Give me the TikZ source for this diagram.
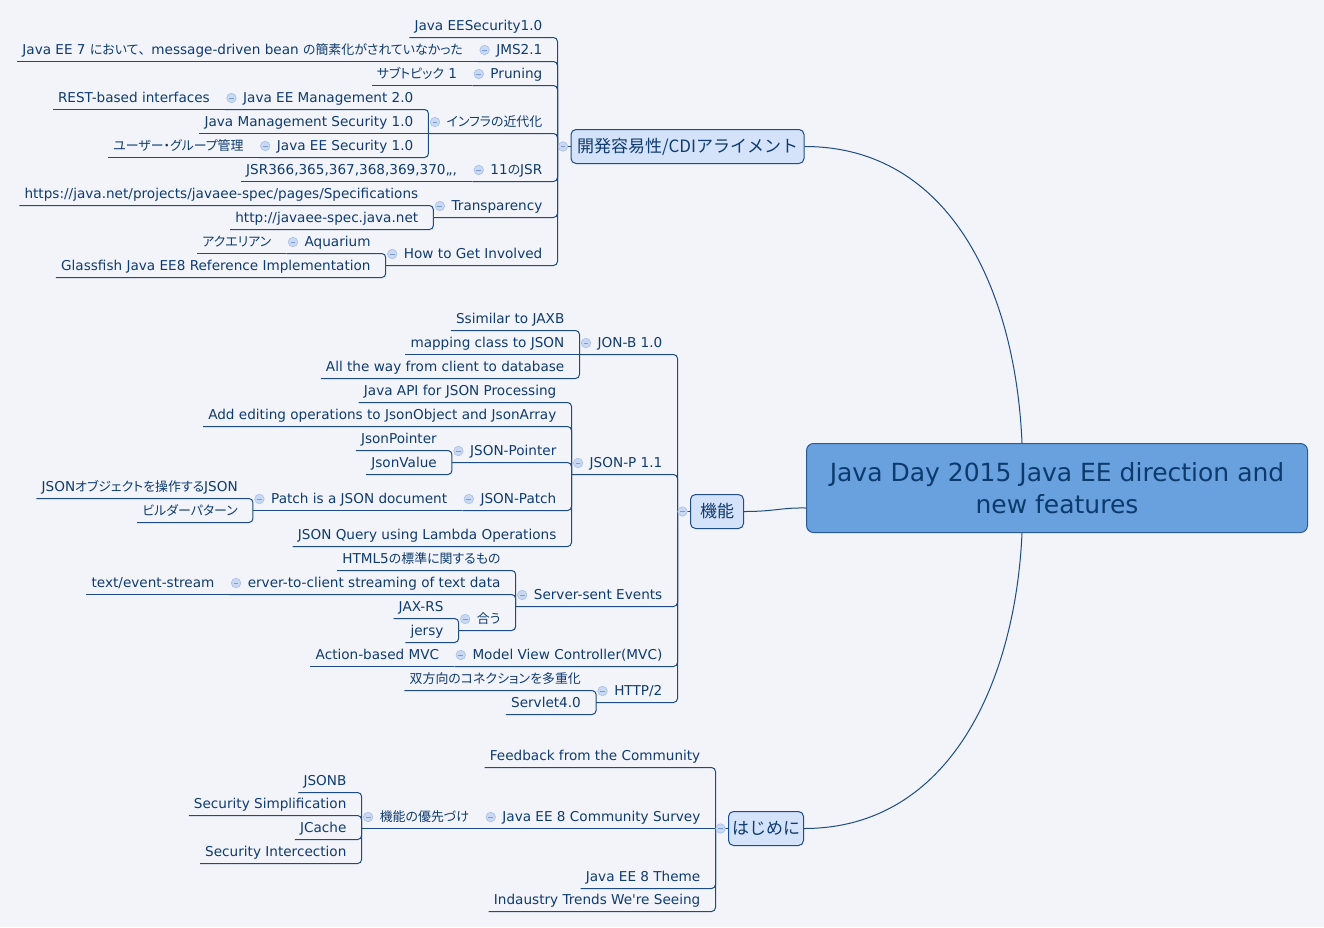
\documentclass[tikz,border=0pt]{standalone}
\usepackage{fontspec}
\setmainfont{DejaVu Sans}
\newfontfamily\jp[RawFeature=+palt,Scale=0.95]{Noto Sans CJK JP}
\newfontfamily\jpf[Scale=0.95]{Noto Sans CJK JP}
\newfontfamily\jpb{Noto Sans CJK JP}
\newcommand\apos{\XeTeXglyph\XeTeXcharglyph"0027\relax}
\usetikzlibrary{calc}
\definecolor{bg}{HTML}{F2F4F9}
\definecolor{ln}{HTML}{1D4B85}
\definecolor{txt}{HTML}{0F3B70}
\definecolor{ccfill}{HTML}{C9D9F3}
\definecolor{ccdraw}{HTML}{A7BFE6}
\definecolor{ccminus}{HTML}{7D9BD1}
\definecolor{boxfill}{HTML}{D4E2FA}
\definecolor{boxdraw}{HTML}{1F4C8A}
\definecolor{mainfill}{HTML}{68A1DE}
\definecolor{maindraw}{HTML}{2A5A98}
\definecolor{maintxt}{HTML}{0D3A6D}
\begin{document}
\begin{tikzpicture}[x=1pt,y=-1pt,
  ul/.style={draw=ln, line width=1pt, rounded corners=4pt},
  crv/.style={draw=ln, line width=1pt},
  topic/.style={font=\fontsize{13.6}{16}\selectfont, text=txt, inner xsep=0pt, inner ysep=0pt,
    text height=11pt, text depth=7pt, anchor=south east},
  leaf/.style={topic, execute at begin node={\hspace*{5pt}}, execute at end node={\hspace*{15pt}}},
  par/.style={topic, execute at begin node={\hspace*{18pt}}, execute at end node={\hspace*{15pt}}},
  box/.style={rounded corners=5pt, fill=boxfill, draw=boxdraw, line width=1pt, minimum height=34pt,
    inner xsep=6pt, font=\jpb\fontsize{17}{20}\selectfont, text=txt},
  mainbox/.style={rounded corners=7pt, fill=mainfill, draw=maindraw, line width=1pt,
    minimum width=501pt, minimum height=89pt, align=center, font=\fontsize{25}{32}\selectfont, text=maintxt},
  cc/.style={circle, fill=ccfill, draw=ccdraw, line width=0.6pt, minimum size=9.5pt, inner sep=0pt,
    path picture={\draw[ccminus, line width=0.9pt] ([xshift=-2.4pt]path picture bounding box.center) -- ([xshift=2.4pt]path picture bounding box.center);}}
]
\fill[bg] (0,0) rectangle (1324,927);
\useasboundingbox (0,0) rectangle (1324,927);

\begin{scope}[shift={(0.5,0.5)}]
% main
\node[mainbox] (main) at (1056.5,487.5) {Java Day 2015 Java EE direction and\\new features};

% branch 1
\node[box, minimum width=232pt] (b1) at (687,146) {開発容易性/CDIアライメント};
\node[leaf] (c1a) at (557,37) {Java EESecurity1.0};
\node[par] (c1b) at (557,61) {JMS2.1};
\node[leaf] (c1b1) at (c1b.south west) {Java EE 7 {\jp において}{\jpf 、}message-driven bean {\jp の簡素化がされていなかった}};
\node[par] (c1c) at (557,85) {Pruning};
\node[leaf] (c1c1) at (c1c.south west) {{\jp サブトピック} 1};
\node[par] (c1d) at (557,133) {\jp インフラの近代化};
\node[par] (c1d1) at (c1d.south west |- 0,109) {Java EE Management 2.0};
\node[leaf] (c1d1a) at (c1d1.south west) {REST-based interfaces};
\node[leaf] (c1d2) at (c1d.south west) {Java Management Security 1.0};
\node[par] (c1d3) at (c1d.south west |- 0,157) {Java EE Security 1.0};
\node[leaf] (c1d3a) at (c1d3.south west) {\jp ユーザー・グループ管理};
\node[par] (c1e) at (557,181) {11{\jp の}JSR};
\node[leaf] (c1e1) at (c1e.south west) {JSR366,365,367,368,369,370,,,};
\node[par] (c1f) at (557,217) {Transparency};
\node[leaf] (c1f1) at (c1f.south west |- 0,205) {https://java.net/projects/javaee-spec/pages/Specifications};
\node[leaf] (c1f2) at (c1f.south west |- 0,229) {http://javaee-spec.java.net};
\node[par] (c1g) at (557,265) {How to Get Involved};
\node[par] (c1g1) at (c1g.south west |- 0,253) {Aquarium};
\node[leaf] (c1g1a) at (c1g1.south west) {\jp アクエリアン};
\node[leaf] (c1g2) at (c1g.south west |- 0,277) {Glassfish Java EE8 Reference Implementation};

% branch 2
\node[box, minimum width=53pt] (b2) at (716.5,511) {機能};
\node[par] (c2a) at (677,354) {JON-B 1.0};
\node[leaf] (c2a1) at (c2a.south west |- 0,330) {Ssimilar to JAXB};
\node[leaf] (c2a2) at (c2a.south west) {mapping class to JSON};
\node[leaf] (c2a3) at (c2a.south west |- 0,378) {All the way from client to database};
\node[par] (c2b) at (677,474) {JSON-P 1.1};
\node[leaf] (c2b1) at (c2b.south west |- 0,402) {Java API for JSON Processing};
\node[leaf] (c2b2) at (c2b.south west |- 0,426) {Add editing operations to JsonObject and JsonArray};
\node[par] (c2b3) at (c2b.south west |- 0,462) {JSON-Pointer};
\node[leaf] (c2b3a) at (c2b3.south west |- 0,450) {JsonPointer};
\node[leaf] (c2b3b) at (c2b3.south west |- 0,474) {JsonValue};
\node[par] (c2b4) at (c2b.south west |- 0,510) {JSON-Patch};
\node[par] (c2b4a) at (c2b4.south west) {Patch is a JSON document};
\node[leaf] (c2b4a1) at (c2b4a.south west |- 0,498) {JSON{\jp オブジェクトを操作する}JSON};
\node[leaf] (c2b4a2) at (c2b4a.south west |- 0,522) {\jp ビルダーパターン};
\node[leaf] (c2b5) at (c2b.south west |- 0,546) {JSON Query using Lambda Operations};
\node[par] (c2c) at (677,606) {Server-sent Events};
\node[leaf] (c2c1) at (c2c.south west |- 0,570) {HTML5{\jp の標準に関するもの}};
\node[par] (c2c2) at (c2c.south west |- 0,594) {erver-to-client streaming of text data};
\node[leaf] (c2c2a) at (c2c2.south west) {text/event-stream};
\node[par] (c2c3) at (c2c.south west |- 0,630) {\jp 合う};
\node[leaf] (c2c3a) at (c2c3.south west |- 0,618) {JAX-RS};
\node[leaf] (c2c3b) at (c2c3.south west |- 0,642) {jersy};
\node[par] (c2d) at (677,666) {Model View Controller(MVC)};
\node[leaf] (c2d1) at (c2d.south west) {Action-based MVC};
\node[par] (c2e) at (677,702) {HTTP/2};
\node[leaf] (c2e1) at (c2e.south west |- 0,690) {\jp 双方向のコネクションを多重化};
\node[leaf] (c2e2) at (c2e.south west |- 0,714) {Servlet4.0};

% branch 3
\node[box, minimum width=75pt, inner xsep=2pt] (b3) at (765.5,828) {はじめに};
\node[leaf] (c3a) at (715,767) {Feedback from the Community};
\node[par] (c3b) at (715,828) {Java EE 8 Community Survey};
\node[par] (c3b1) at (c3b.south west) {\jp 機能の優先づけ};
\node[leaf] (c3b1a) at (c3b1.south west |- 0,792) {JSONB};
\node[leaf] (c3b1b) at (c3b1.south west |- 0,815) {Security Simplification};
\node[leaf] (c3b1c) at (c3b1.south west |- 0,839) {JCache};
\node[leaf] (c3b1d) at (c3b1.south west |- 0,863) {Security Intercection};
\node[leaf] (c3c) at (715,888) {Java EE 8 Theme};
\node[leaf] (c3d) at (715,911) {Indaustry Trends We\apos re Seeing};

% curves from main
\draw[crv] (b1.east) .. controls (950,146) and (1015,290) .. ($(main.north west)+(216,0)$);
\draw[crv] (b3.east) .. controls (950,828) and (1015,680) .. ($(main.south west)+(216,0)$);
\draw[crv] (b2.east) .. controls (775,511) and (780,507) .. ($(main.south west)+(0,-25)$);

% top-level brackets
\foreach \c/\b in {c1a/b1,c1b/b1,c1c/b1,c1d/b1,c1e/b1,c1f/b1,c1g/b1,
                   c2a/b2,c2b/b2,c2c/b2,c2d/b2,c2e/b2,
                   c3a/b3,c3c/b3,c3d/b3}
  \draw[ul] (\c.south west) -- (\c.south east) -- (\c.south east |- \b.west);
\draw[ul] (c1a.south east |- b1.west) -- (b1.west);
\draw[ul] (c2a.south east |- b2.west) -- (b2.west);
\draw[ul] (c3a.south east |- b3.west) -- (b3.west);

% nested corner connectors
\foreach \c/\p in {c1d1/c1d,c1d3/c1d,c1f1/c1f,c1f2/c1f,c1g1/c1g,c1g2/c1g,
                   c2a1/c2a,c2a3/c2a,c2b1/c2b,c2b2/c2b,c2b3/c2b,c2b4/c2b,c2b5/c2b,
                   c2b3a/c2b3,c2b3b/c2b3,c2b4a1/c2b4a,c2b4a2/c2b4a,
                   c2c1/c2c,c2c2/c2c,c2c3/c2c,c2c3a/c2c3,c2c3b/c2c3,
                   c2e1/c2e,c2e2/c2e,
                   c3b1a/c3b1,c3b1b/c3b1,c3b1c/c3b1,c3b1d/c3b1}
  \draw[ul] (\c.south west) -- (\c.south east) -- (\p.south west);

% straight connectors
\foreach \c in {c1b1,c1c1,c1d1a,c1d2,c1d3a,c1e1,c1g1a,c2a2,c2b4a,c2c2a,c2d1,c3b1,c3b}
  \draw[ul] (\c.south west) -- (\c.south east);

% collapse markers
\foreach \n in {c1b,c1c,c1d,c1d1,c1d3,c1e,c1f,c1g,c1g1,c2a,c2b,c2b3,c2b4,c2b4a,c2c,c2c2,c2c3,c2d,c2e,c3b,c3b1}
  \node[cc] at ($(\n.south west)+(6.5,-11.5)$) {};
\foreach \b in {b1,b2,b3}
  \node[cc] at ($(\b.west)+(-7.5,0)$) {};
\end{scope}
\end{tikzpicture}
\end{document}
